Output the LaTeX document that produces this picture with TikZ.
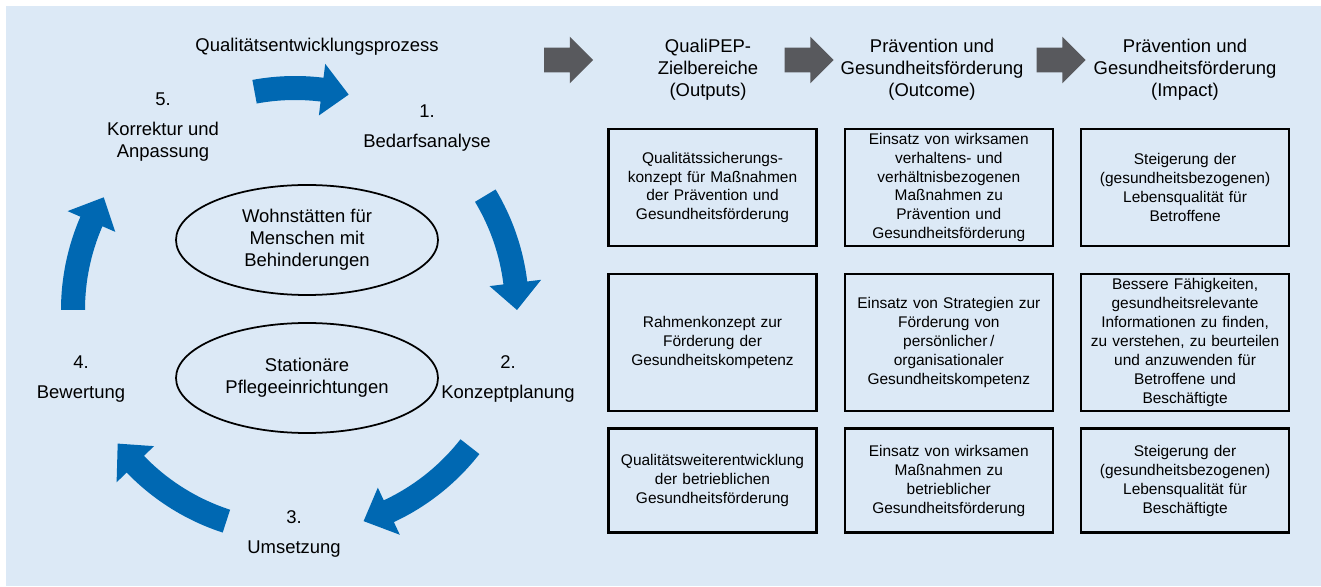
\documentclass[tikz,border=0pt]{standalone}
\usepackage{fontspec}
\setmainfont{Liberation Sans}
\usepackage{tikz}
\usetikzlibrary{shapes.geometric, shapes.arrows, positioning}
\definecolor{QPBack}{RGB}{220,233,246}
\definecolor{QPBlue}{RGB}{0,104,178}
\definecolor{QPGray}{RGB}{88,89,93}

\begin{document}
\begin{tikzpicture}[
    blk/.style={rectangle, draw=black, line width=1.3pt, fill=QPBack,
                minimum width=4.16cm, text width=4cm, inner sep=1pt,
                align=center, font=\fontsize{8.8}{10.8}\selectfont},
    hd/.style={align=center, font=\fontsize{10.5}{12.5}\selectfont},
    ell/.style={ellipse, draw=black, line width=1pt, minimum width=5.24cm,
                minimum height=2.2cm, inner sep=0pt, align=center,
                font=\fontsize{10.5}{12.5}\selectfont},
    garr/.style={single arrow, fill=QPGray, inner xsep=0pt, inner ysep=0.24cm,
                 minimum height=0.98cm, single arrow head extend=0.22cm}
  ]
  \useasboundingbox (0,0) rectangle (26.42,11.72);
  \fill[QPBack] (0.12,0) rectangle (26.42,11.6);

  % Qualitaetsentwicklungsprozess (Kreislauf)
  \node[hd] (title) at (6.34,10.78) {Qualitätsentwicklungsprozess};
  \node[hd] (s5) at (3.26,9.18) {5.\\[4.5pt]Korrektur und\\Anpassung};
  \node[hd] (s1) at (8.54,9.16) {1.\\[4.5pt]Bedarfsanalyse};
  \node[hd] (s2) at (10.16,4.14) {2.\\[4.5pt]Konzeptplanung};
  \node[hd] (s3) at (5.88,1.04) {3.\\[4.5pt]Umsetzung};
  \node[hd] (s4) at (1.62,4.14) {4.\\[4.5pt]Bewertung};

  \node[ell] (wohn) at (6.14,6.92) {Wohnstätten für\\Menschen mit\\Behinderungen};
  \node[ell] (pflege) at (6.14,4.16) {Stationäre\\Pflegeeinrichtungen};

  \coordinate (mid) at (5.9,5.52);
  \begin{scope}[shift={(mid)}]
    \foreach \ta/\tb in {100.5/76, 31/0, -38/-72, -108/-143, 180/149.5} {
      \pgfmathsetmacro\hb{\tb+7}
      \fill[QPBlue] (\ta:4.68) arc[start angle=\ta, end angle=\hb, radius=4.68]
        -- (\hb:4.96) -- (\tb:4.44) -- (\hb:3.92) -- (\hb:4.2)
        arc[start angle=\hb, end angle=\ta, radius=4.2] -- cycle;
    }
  \end{scope}

  % Pfeile und Spaltenkoepfe
  \foreach \i/\x in {1/11.25, 2/16.06, 3/21.10} {
    \node[garr] (g\i) at (\x,10.52) {};
  }
  \node[hd] (h1) at (14.16,10.32) {QualiPEP-\\Zielbereiche\\(Outputs)};
  \node[hd] (h2) at (18.64,10.32) {Prävention und\\Gesundheitsförderung\\(Outcome)};
  \node[hd] (h3) at (23.70,10.32) {Prävention und\\Gesundheitsförderung\\(Impact)};

  % Zeile 1
  \node[blk, minimum height=2.34cm] (o1) at (14.25,7.97)
        {Qualitätssicherungs-\\konzept für Maßnahmen\\der Prävention und\\Gesundheitsförderung};
  \node[blk, minimum height=2.34cm, right=0.52cm of o1] (c1)
        {Einsatz von wirksamen\\verhaltens- und\\verhältnisbezogenen\\Maßnahmen zu\\Prävention und\\Gesundheitsförderung};
  \node[blk, minimum height=2.34cm, right=0.52cm of c1] (i1)
        {Steigerung der\\(gesundheitsbezogenen)\\Lebensqualität für\\Betroffene};

  % Zeile 2
  \node[blk, minimum height=2.74cm, below=0.52cm of o1] (o2)
        {Rahmenkonzept zur\\Förderung der\\Gesundheitskompetenz};
  \node[blk, minimum height=2.74cm, right=0.52cm of o2] (c2)
        {Einsatz von Strategien zur\\Förderung von\\persönlicher\,/\\organisationaler\\Gesundheitskompetenz};
  \node[blk, minimum height=2.74cm, right=0.52cm of c2] (i2)
        {Bessere Fähigkeiten,\\gesundheitsrelevante\\Informationen zu finden,\\zu verstehen, zu beurteilen\\und anzuwenden für\\Betroffene und\\Beschäftigte};

  % Zeile 3
  \node[blk, minimum height=2.08cm, below=0.30cm of o2] (o3)
        {Qualitätsweiterentwicklung\\der betrieblichen\\Gesundheitsförderung};
  \node[blk, minimum height=2.08cm, right=0.52cm of o3] (c3)
        {Einsatz von wirksamen\\Maßnahmen zu\\betrieblicher\\Gesundheitsförderung};
  \node[blk, minimum height=2.08cm, right=0.52cm of c3] (i3)
        {Steigerung der\\(gesundheitsbezogenen)\\Lebensqualität für\\Beschäftigte};
\end{tikzpicture}
\end{document}
